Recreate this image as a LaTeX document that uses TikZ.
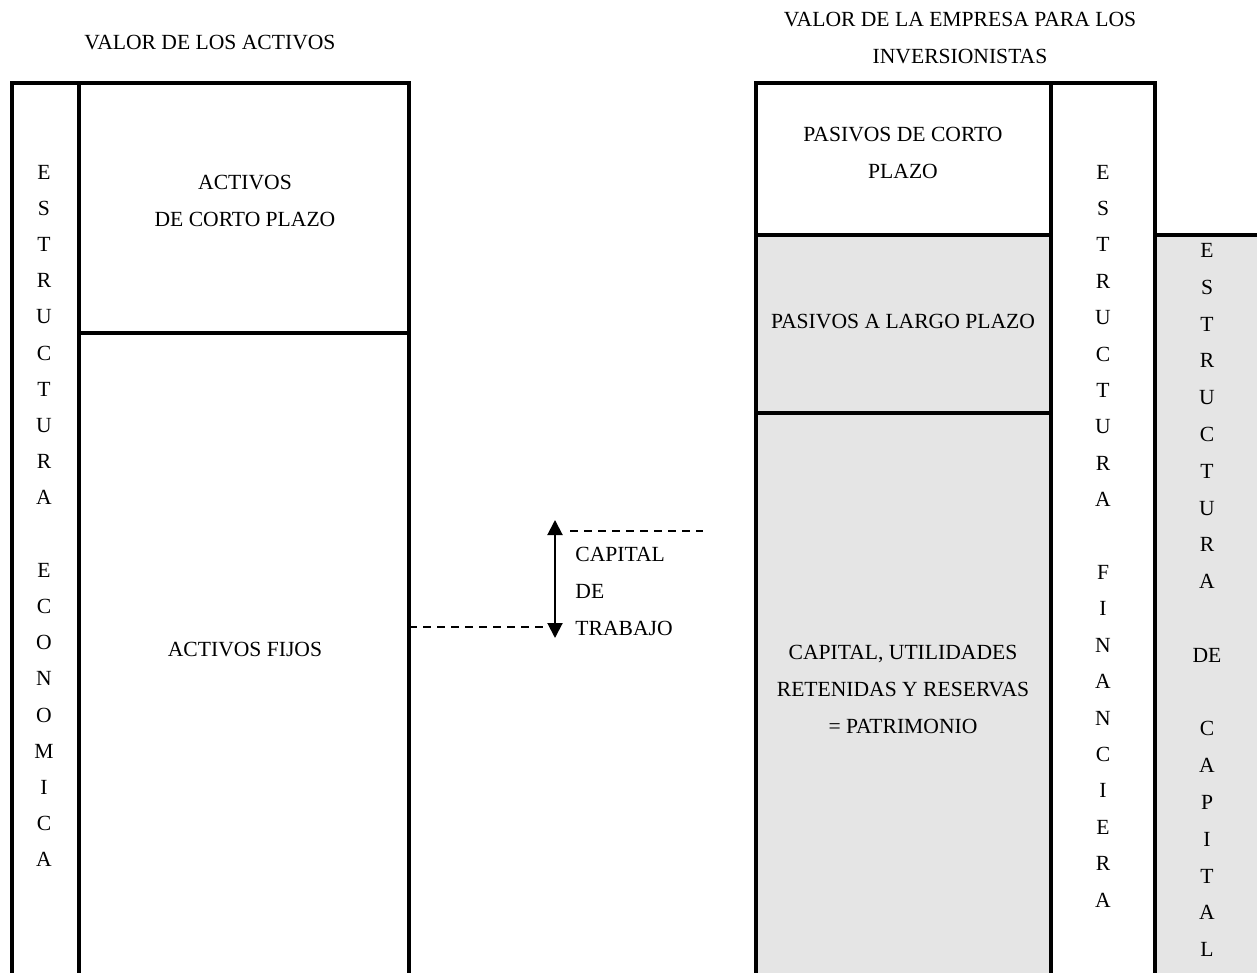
\documentclass[tikz,border=0pt]{standalone}
\usepackage{fontspec}
\setmainfont{Liberation Serif}
\usetikzlibrary{arrows.meta}
\tikzset{
	caja/.style={line width=2pt},
	gris/.style={fill=gray!20},
	txt/.style={font=\fontsize{10.8}{18.5}\selectfont, align=center, inner sep=0pt},
	letras/.style={txt, font=\fontsize{10.8}{#1}\selectfont},
	guia/.style={line width=0.7pt, dash pattern=on 4pt off 3pt}
}
\begin{document}
\begin{tikzpicture}[x=0.5pt, y=-0.5pt, line join=miter, >={Triangle[length=7.5pt,width=7.5pt]}]
	\useasboundingbox (0,0) rectangle (1257,973);
	\clip (0,0) rectangle (1257,973);
	\path
	(409,627) coordinate (g1)
	(543,627) coordinate (g2)
	(570,531) coordinate (g3)
	(703,531) coordinate (g4)
	(555,520) coordinate (f1)
	(555,638) coordinate (f2);
	\fill[gris] (756,235) rectangle (1051,990)
	(1155,235) rectangle (1270,990);
	% activos
	\draw[caja] (12,990) -- (12,83) -- (409,83) -- (409,990)
	(79,83) -- (79,990)
	(79,333) -- (409,333);
	% pasivos y patrimonio
	\draw[caja] (756,990) -- (756,83) -- (1155,83) -- (1155,990)
	(1051,83) -- (1051,990)
	(756,235) -- (1051,235)
	(1155,235) -- (1270,235)
	(756,413) -- (1051,413);
	\node[txt] (va) at (210,43) {VALOR DE LOS ACTIVOS};
	\node[txt] (ve) at (960,38) {VALOR DE LA EMPRESA PARA LOS\\INVERSIONISTAS};
	\node[txt] (acp) at (245,201) {ACTIVOS\\DE CORTO PLAZO};
	\node[txt] (af) at (245,650) {ACTIVOS FIJOS};
	\node[txt] (pcp) at (903,153) {PASIVOS DE CORTO\\PLAZO};
	\node[txt] (plp) at (903,322) {PASIVOS A LARGO PLAZO};
	\node[txt] (pat) at (903,689) {CAPITAL, UTILIDADES\\RETENIDAS Y RESERVAS\\= PATRIMONIO};
	\node[txt, anchor=west, align=left] (ct) at (575,591) {CAPITAL\\DE\\TRABAJO};
	\node[letras=18.1pt] (eeco) at (44,516)
	{E\\S\\T\\R\\U\\C\\T\\U\\R\\A\\~\\E\\C\\O\\N\\O\\M\\I\\C\\A};
	\node[letras=18.2pt] (efin) at (1103,536)
	{E\\S\\T\\R\\U\\C\\T\\U\\R\\A\\~\\F\\I\\N\\A\\N\\C\\I\\E\\R\\A};
	\node[letras=18.4pt] (ecap) at (1207,600)
	{E\\S\\T\\R\\U\\C\\T\\U\\R\\A\\~\\DE\\~\\C\\A\\P\\I\\T\\A\\L};
	\draw[guia] (g1) -- (g2);
	\draw[guia] (g3) -- (g4);
	\draw[<->, line width=1pt] (f1) -- (f2);
\end{tikzpicture}
\end{document}
